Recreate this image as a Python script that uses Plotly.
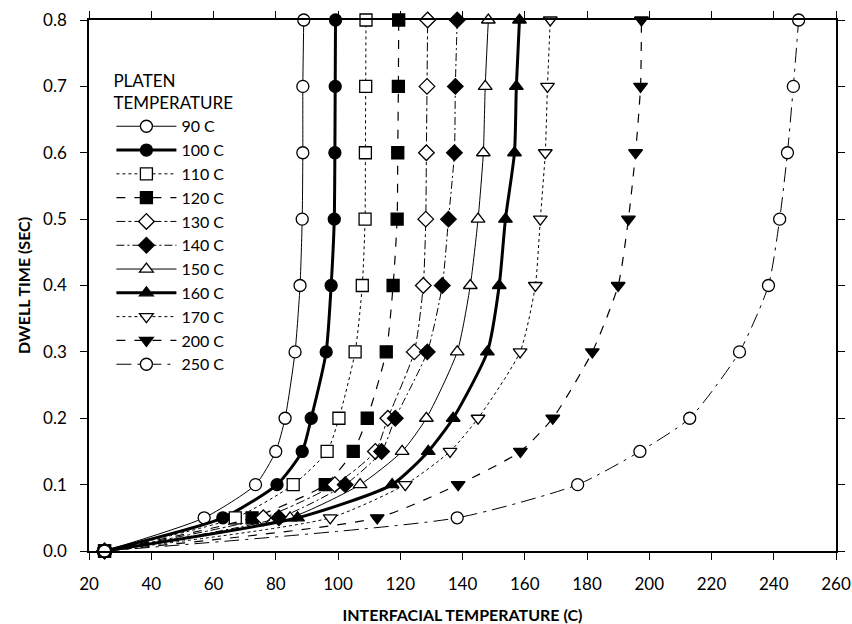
import plotly.graph_objects as go

dwell = [0, 0.05, 0.1, 0.15, 0.2, 0.3, 0.4, 0.5, 0.6, 0.7, 0.8]

labels = ["90 C", "100 C", "110 C", "120 C", "130 C", "140 C",
          "150 C", "160 C", "170 C", "200 C", "250 C"]

t90 = [25, 57, 73.5, 80, 83, 86.2, 87.8, 88.5, 88.7, 88.7, 89]
t100 = [25, 63, 80.4, 88.5, 91.4, 96.2, 97.8, 98.8, 99.0, 99.1, 99.2]
t110 = [25, 67, 85.6, 96.5, 100.3, 105.5, 107.8, 108.7, 108.8, 108.9, 109]
t120 = [25, 72.4, 95.9, 104.9, 109.4, 115.5, 117.7, 119, 119.2, 119.4, 119.5]
t130 = [25, 76, 99, 112, 116, 124.5, 127.4, 128.2, 128.4, 128.6, 128.8]
t140 = [25, 81, 102.3, 114, 118.4, 128.7, 133.5, 135.5, 137.4, 137.7, 138.3]
t150 = [25, 84.6, 107.1, 120.6, 128.4, 138.3, 142.5, 145, 146.7, 147.3, 148.3]
t160 = [25, 87, 117.4, 129, 137, 148, 151.8, 153.8, 156.7, 157.3, 158.3]
t170 = [25, 97.5, 121.6, 136, 145, 158.5, 163.4, 165, 166.6, 167.3, 168.2]
t200 = [25, 112.6, 138.6, 158.6, 169, 181.7, 190, 193.3, 195.6, 197.2, 197.5]
t250 = [25, 138.3, 177, 197, 213, 229, 238.3, 241.9, 244.4, 246.3, 248]

series = [t90, t100, t110, t120, t130, t140, t150, t160, t170, t200, t250]

symbols = ["circle", "circle", "square", "square", "diamond", "diamond",
           "triangle-up", "triangle-up", "triangle-down", "triangle-down", "circle"]
filled = [False, True, False, True, False, True, False, True, False, True, False]
dashes = ["solid", "solid", "dot", "dash", "dashdot", "8px,3px,2px,3px",
          "solid", "solid", "dot", "dash", "longdashdot"]
widths = [1, 3, 1, 1.2, 1, 1, 1, 3, 1, 1.2, 1]

FONT = "Lato"

fig = go.Figure()
for lab, xs, sym, fil, dsh, w in zip(labels, series, symbols, filled, dashes, widths):
    fig.add_trace(go.Scatter(
        x=xs, y=dwell, name=lab, mode="lines+markers",
        line=dict(color="black", width=w, dash=dsh, shape="spline", smoothing=0.6),
        marker=dict(symbol=sym, size=12,
                    color="black" if fil else "white",
                    line=dict(color="black", width=1.3)),
        cliponaxis=False,
    ))

fig.update_layout(
    width=852, height=624,
    margin=dict(l=89, r=16, t=20, b=73),
    paper_bgcolor="white", plot_bgcolor="white",
    font=dict(family=FONT, size=17, color="black"),
    showlegend=True,
    legend=dict(
        x=0.03, y=0.915, xanchor="left", yanchor="top",
        bgcolor="rgba(0,0,0,0)",
        title=dict(text="PLATEN<br>TEMPERATURE", font=dict(size=17, family=FONT)),
        font=dict(size=16, family=FONT),
        tracegroupgap=0,
        itemwidth=60,
    ),
)

fig.update_xaxes(
    range=[20, 260], tick0=20, dtick=20,
    showline=True, linecolor="black", linewidth=1.5, mirror="ticks",
    ticks="outside", ticklen=7, tickcolor="black", ticklabelstandoff=10,
    showgrid=False, zeroline=False, automargin=False,
    title=dict(text="<b>INTERFACIAL TEMPERATURE (C)</b>", font=dict(size=16, family=FONT), standoff=18),
)
fig.update_yaxes(
    range=[0, 0.8], tick0=0, dtick=0.1, tickformat=".1f",
    showline=True, linecolor="black", linewidth=1.5, mirror="ticks",
    ticks="outside", ticklen=7, tickcolor="black", ticklabelstandoff=10,
    showgrid=False, zeroline=False, automargin=False,
    title=dict(text="<b>DWELL TIME (SEC)</b>", font=dict(size=16, family=FONT), standoff=9),
)

fig.write_html("out.html")
